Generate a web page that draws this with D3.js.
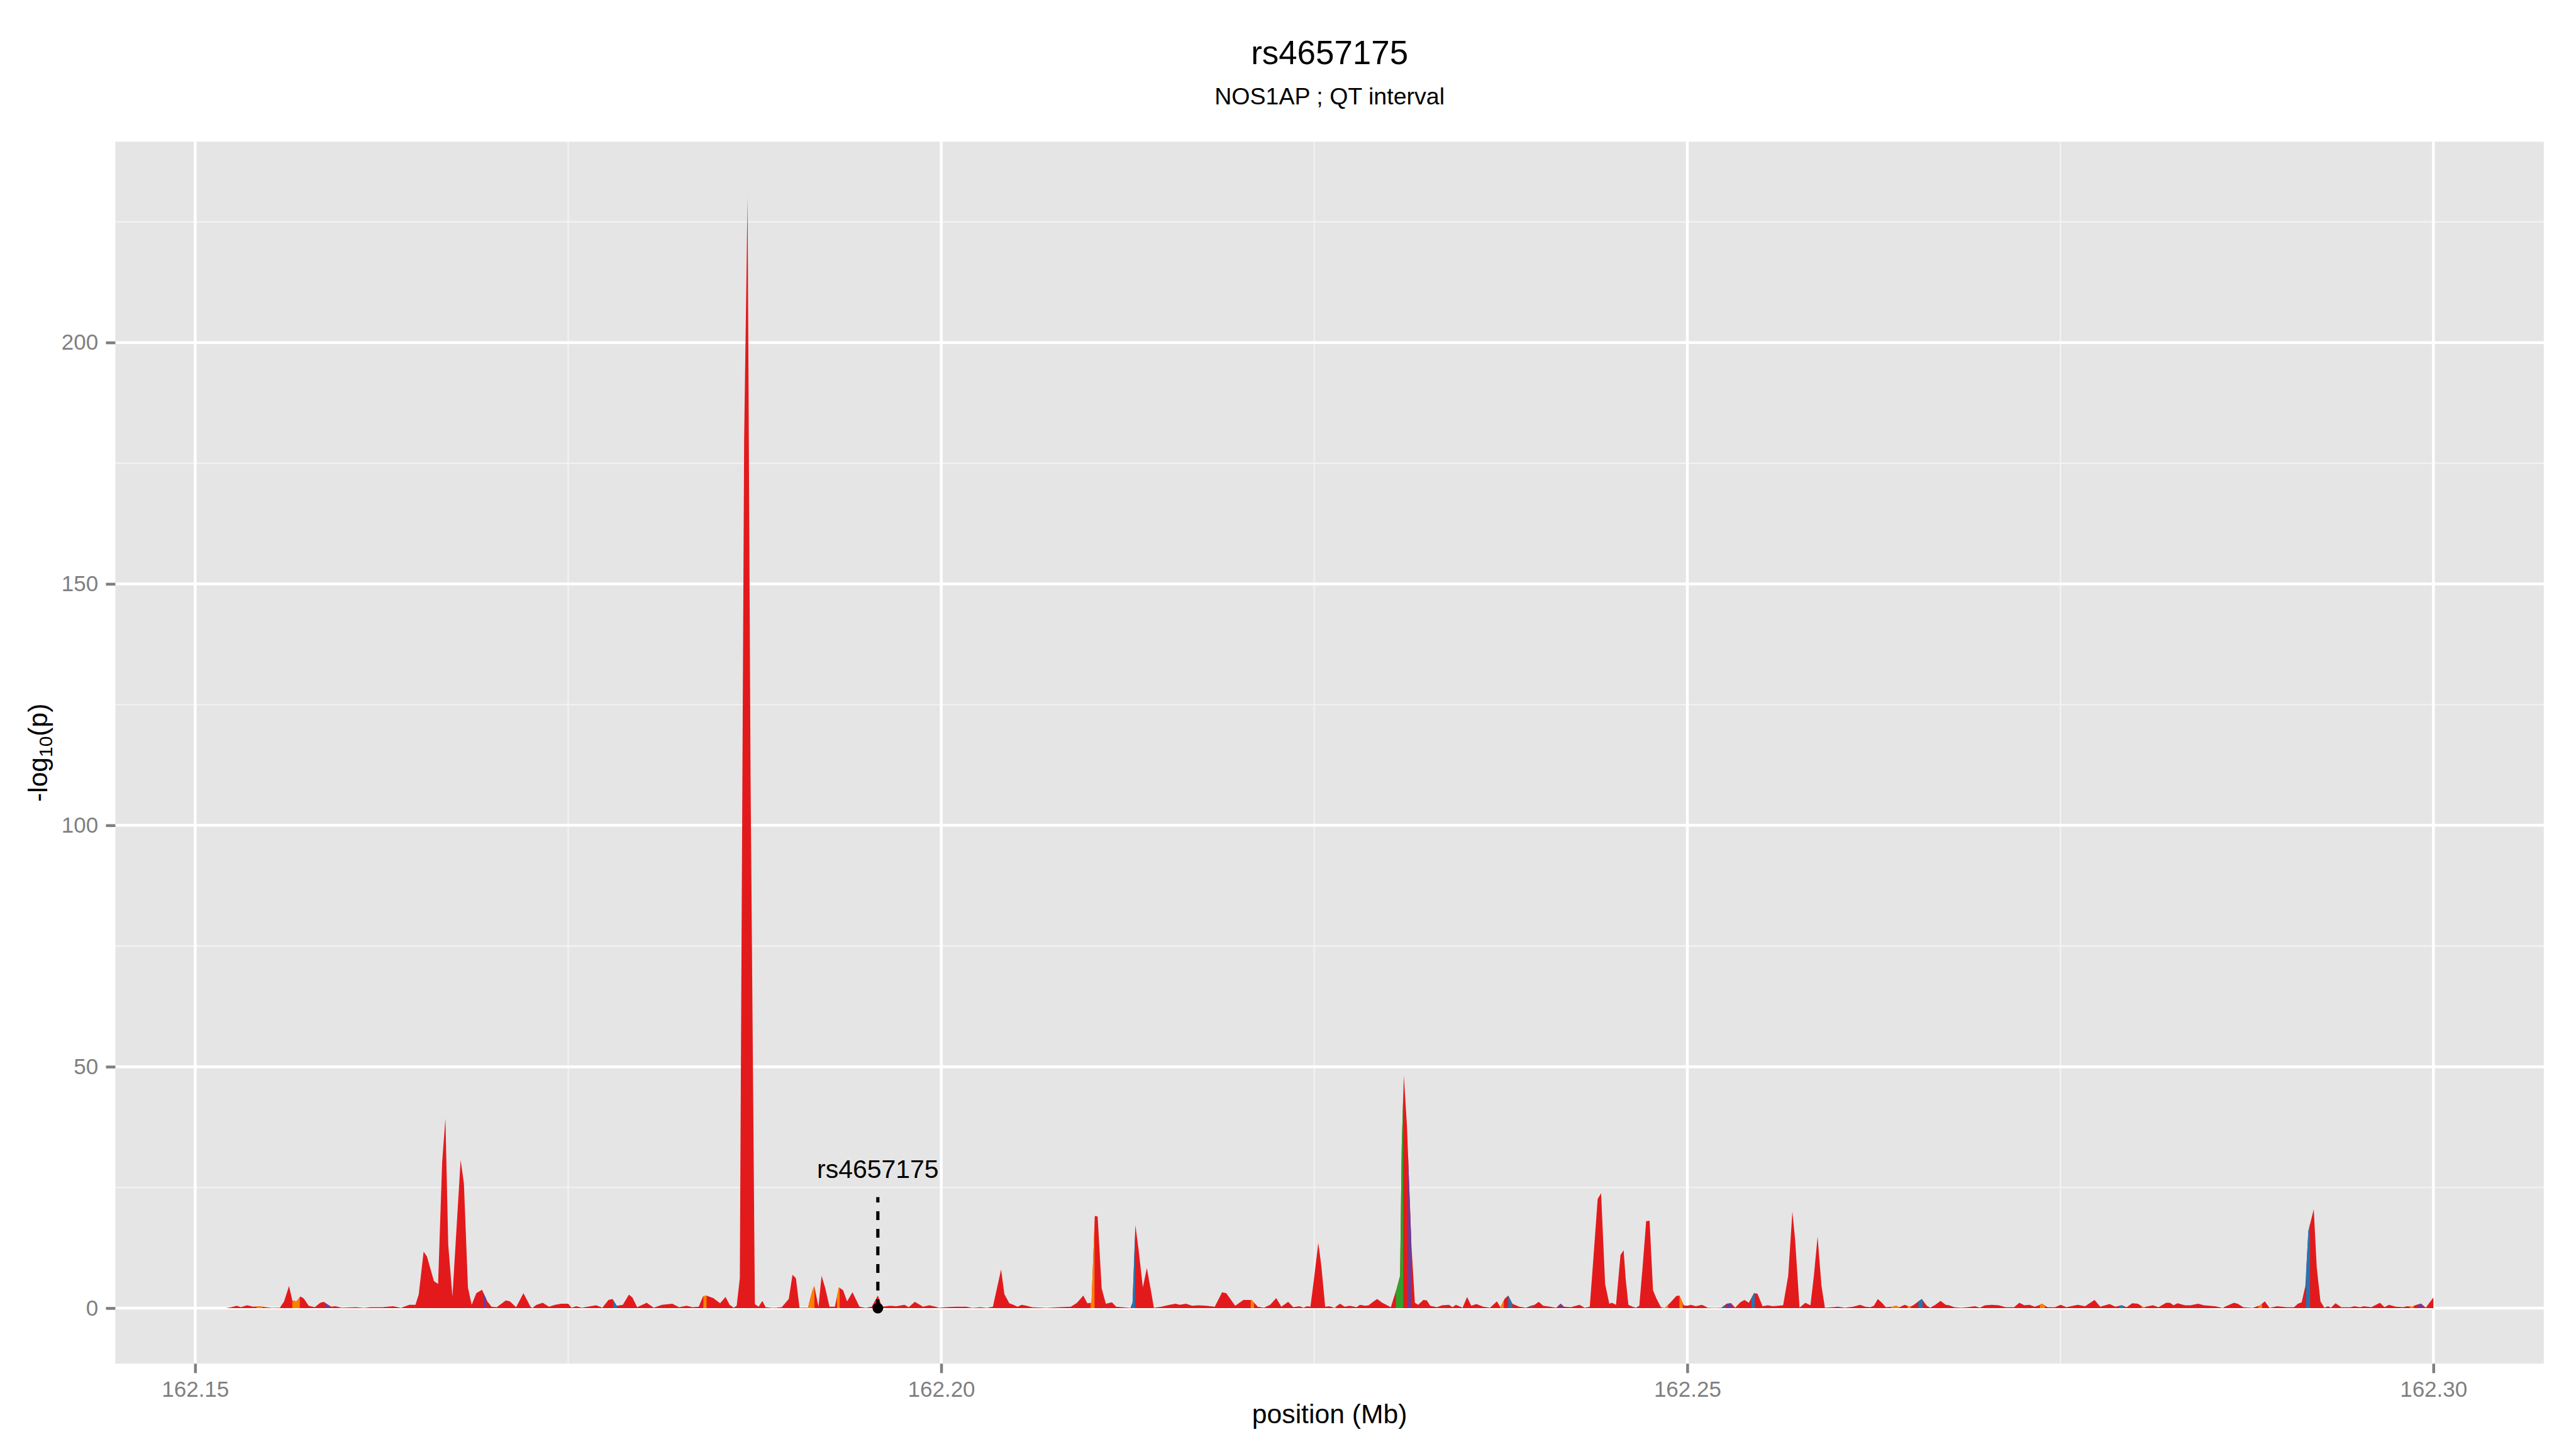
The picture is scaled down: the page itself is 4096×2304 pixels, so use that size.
<!DOCTYPE html>
<html>
<head>
<meta charset="utf-8">
<script src="https://cdn.jsdelivr.net/npm/d3@7"></script>
<style>
  html, body { margin: 0; padding: 0; background: #ffffff; }
  svg { display: block; }
</style>
</head>
<body>
<div id="chart"></div>
<script>
// SNP positions (Mb) and -log10(p)
const positions = [
  162.15205, 162.15243, 162.15279, 162.15306, 162.15348, 162.15389, 162.15430, 162.15472, 162.15513, 162.15568,
  162.15596, 162.15629, 162.15651, 162.15678, 162.15706, 162.15728, 162.15761, 162.15802, 162.15838, 162.15862,
  162.15884, 162.15912, 162.15940, 162.15981, 162.16077, 162.16132, 162.16173, 162.16256, 162.16325, 162.16380,
  162.16435, 162.16476, 162.16498, 162.16531, 162.16553, 162.16600, 162.16628, 162.16655, 162.16677, 162.16696,
  162.16724, 162.16779, 162.16801, 162.16828, 162.16853, 162.16884, 162.16922, 162.16958, 162.16986, 162.17021,
  162.17082, 162.17109, 162.17151, 162.17200, 162.17247, 162.17261, 162.17288, 162.17329, 162.17371, 162.17412,
  162.17453, 162.17500, 162.17522, 162.17555, 162.17591, 162.17687, 162.17729, 162.17770, 162.17797, 162.17825,
  162.17866, 162.17907, 162.17930, 162.17962, 162.18026, 162.18073, 162.18128, 162.18197, 162.18243, 162.18293,
  162.18334, 162.18375, 162.18403, 162.18425, 162.18472, 162.18518, 162.18554, 162.18582, 162.18609, 162.18629,
  162.18650, 162.18679, 162.18702, 162.18722, 162.18751, 162.18776, 162.18801, 162.18823, 162.18870, 162.18888,
  162.18931, 162.18978, 162.19003, 162.19026, 162.19050, 162.19107, 162.19135, 162.19149, 162.19177, 162.19198,
  162.19223, 162.19251, 162.19287, 162.19314, 162.19342, 162.19369, 162.19405, 162.19452, 162.19493, 162.19534,
  162.19575, 162.19603, 162.19658, 162.19699, 162.19754, 162.19782, 162.19823, 162.19878, 162.19920, 162.19961,
  162.19988, 162.20030, 162.20098, 162.20167, 162.20208, 162.20263, 162.20305, 162.20346, 162.20401, 162.20423,
  162.20456, 162.20484, 162.20511, 162.20539, 162.20572, 162.20608, 162.20704, 162.20787, 162.20869, 162.20910,
  162.20952, 162.20979, 162.21007, 162.21029, 162.21048, 162.21075, 162.21103, 162.21144, 162.21172, 162.21268,
  162.21282, 162.21301, 162.21323, 162.21351, 162.21378, 162.21406, 162.21425, 162.21475, 162.21530, 162.21571,
  162.21598, 162.21640, 162.21681, 162.21722, 162.21778, 162.21833, 162.21882, 162.21910, 162.21970, 162.22025,
  162.22080, 162.22121, 162.22163, 162.22204, 162.22245, 162.22279, 162.22325, 162.22359, 162.22400, 162.22428,
  162.22451, 162.22474, 162.22497, 162.22527, 162.22547, 162.22573, 162.22600, 162.22635, 162.22673, 162.22703,
  162.22738, 162.22783, 162.22806, 162.22841, 162.22864, 162.22898, 162.22921, 162.22956, 162.23013, 162.23031,
  162.23052, 162.23075, 162.23086, 162.23100, 162.23121, 162.23151, 162.23174, 162.23196, 162.23231, 162.23254,
  162.23277, 162.23322, 162.23357, 162.23403, 162.23426, 162.23449, 162.23494, 162.23524, 162.23552, 162.23587,
  162.23632, 162.23678, 162.23724, 162.23747, 162.23777, 162.23800, 162.23827, 162.23873, 162.23919, 162.23953,
  162.23976, 162.24004, 162.24034, 162.24080, 162.24121, 162.24151, 162.24174, 162.24220, 162.24277, 162.24312,
  162.24346, 162.24369, 162.24399, 162.24422, 162.24449, 162.24477, 162.24495, 162.24522, 162.24552, 162.24573,
  162.24587, 162.24605, 162.24633, 162.24655, 162.24678, 162.24701, 162.24724, 162.24747, 162.24770, 162.24793,
  162.24823, 162.24851, 162.24885, 162.24926, 162.24947, 162.24976, 162.25000, 162.25023, 162.25057, 162.25098,
  162.25137, 162.25183, 162.25229, 162.25263, 162.25293, 162.25321, 162.25355, 162.25383, 162.25412, 162.25447,
  162.25470, 162.25504, 162.25539, 162.25573, 162.25642, 162.25676, 162.25704, 162.25722, 162.25752, 162.25791,
  162.25825, 162.25848, 162.25873, 162.25899, 162.25922, 162.25975, 162.26009, 162.26055, 162.26112, 162.26158,
  162.26192, 162.26227, 162.26250, 162.26277, 162.26307, 162.26330, 162.26376, 162.26399, 162.26422, 162.26456,
  162.26491, 162.26514, 162.26536, 162.26571, 162.26605, 162.26628, 162.26662, 162.26697, 162.26732, 162.26754,
  162.26789, 162.26835, 162.26880, 162.26927, 162.26961, 162.26995, 162.27041, 162.27087, 162.27133, 162.27190,
  162.27225, 162.27259, 162.27293, 162.27328, 162.27357, 162.27376, 162.27414, 162.27464, 162.27502, 162.27540,
  162.27616, 162.27666, 162.27729, 162.27767, 162.27830, 162.27868, 162.27911, 162.27944, 162.27982, 162.28019,
  162.28057, 162.28120, 162.28158, 162.28209, 162.28234, 162.28259, 162.28285, 162.28335, 162.28373, 162.28423,
  162.28461, 162.28537, 162.28587, 162.28663, 162.28688, 162.28726, 162.28789, 162.28839, 162.28870, 162.28902,
  162.28953, 162.29016, 162.29066, 162.29092, 162.29117, 162.29142, 162.29162, 162.29198, 162.29218, 162.29243,
  162.29269, 162.29294, 162.29314, 162.29344, 162.29382, 162.29445, 162.29470, 162.29508, 162.29533, 162.29584,
  162.29609, 162.29642, 162.29672, 162.29702, 162.29748, 162.29798, 162.29824, 162.29856, 162.29886, 162.29917,
  162.29949, 162.30000
];

const logP = [
  0, 0.2, 0.5, 0.2, 0.6, 0.3, 0.4, 0.2, 0.05, 0.1,
  1.4, 4.6, 1.6, 1.4, 2.4, 2.0, 0.5, 0.2, 1.1, 1.3,
  0.8, 0.3, 0.4, 0.1, 0.2, 0.05, 0.2, 0.2, 0.4, 0.05,
  0.7, 0.7, 2.8, 11.7, 10.7, 5.6, 5.0, 30.1, 39.3, 13.1,
  2.4, 30.7, 25.8, 4.3, 0.7, 3.1, 3.8, 1.4, 0.3, 0.2,
  1.6, 1.4, 0.2, 3.1, 0.3, 0.1, 0.7, 1.1, 0.3, 0.7,
  0.9, 0.9, 0.1, 0.4, 0.1, 0.6, 0.1, 1.7, 1.9, 0.5,
  0.7, 2.8, 2.2, 0.2, 1.1, 0.1, 0.7, 0.9, 0.2, 0.5,
  0.2, 0.3, 2.4, 2.6, 2.1, 1.0, 2.3, 0.7, 0.1, 0.5,
  6.2, 180, 230.1, 110, 0.8, 0.3, 1.5, 0.2, 0.05, 0.1,
  0.2, 1.9, 6.9, 6.2, 0.1, 0.1, 3.5, 4.6, 0.3, 6.7,
  4.1, 0.3, 0.3, 4.3, 3.7, 1.4, 3.3, 0.3, 0.05, 0.3,
  2.6, 0.3, 0.5, 0.4, 0.7, 0.2, 1.3, 0.3, 0.6, 0.3,
  0.05, 0.2, 0.3, 0.3, 0.05, 0.2, 0.05, 0.3, 8.0, 2.9,
  1.0, 0.7, 0.3, 0.7, 0.5, 0.2, 0.05, 0.2, 0.3, 1.1,
  2.6, 1.0, 1.1, 19.1, 19.0, 4.1, 0.9, 1.2, 0.3, 0.05,
  1.1, 17.2, 12.0, 4.3, 8.3, 3.5, 0.1, 0.3, 0.7, 0.9,
  0.7, 0.9, 0.5, 0.6, 0.5, 0.3, 3.3, 3.1, 0.5, 1.7,
  1.7, 0.3, 0.1, 0.7, 2.1, 0.3, 1.3, 0.2, 0.4, 0.1,
  0.4, 0.3, 5.8, 13.5, 8.8, 0.3, 0.4, 0.1, 0.9, 0.3,
  0.5, 0.2, 0.7, 0.5, 0.6, 1.4, 1.9, 1.1, 0.2, 2.0,
  4.0, 6.7, 33.5, 48.2, 37.7, 13.0, 1.1, 0.7, 1.7, 1.6,
  0.5, 0.2, 0.6, 0.7, 0.2, 0.7, 0.1, 2.3, 0.5, 0.85,
  0.3, 0.1, 1.4, 0.2, 2.0, 2.6, 0.9, 0.3, 0.1, 0.5,
  0.7, 1.3, 0.5, 0.3, 0.1, 0.9, 0.3, 0.2, 0.7, 0.1,
  0.3, 9.7, 22.6, 23.8, 5.0, 0.9, 1.1, 0.7, 11.0, 12.0,
  6.0, 0.7, 0.3, 0.1, 0.5, 8.8, 18.0, 18.1, 3.7, 2.0,
  0.2, 0.1, 1.1, 2.5, 2.6, 0.6, 0.5, 0.7, 0.4, 0.7,
  0.1, 0.05, 0.1, 0.9, 1.0, 0.1, 1.2, 1.7, 1.1, 3.1,
  3.0, 0.4, 0.6, 0.4, 0.6, 6.7, 20.0, 14.3, 0.1, 1.1,
  0.6, 6.7, 14.8, 4.6, 0.1, 0.2, 0.3, 0.1, 0.3, 0.7,
  0.3, 0.2, 0.5, 1.9, 1.0, 0.2, 0.3, 0.5, 0.2, 0.7,
  0.3, 0.6, 1.1, 1.9, 0.5, 0.1, 0.7, 1.5, 0.7, 0.6,
  0.2, 0.1, 0.2, 0.4, 0.1, 0.6, 0.7, 0.6, 0.2, 0.2,
  1.1, 0.6, 0.7, 0.3, 0.6, 0.9, 0.2, 0.2, 0.7, 0.2,
  0.7, 0.4, 1.7, 0.3, 0.85, 0.3, 0.6, 0.2, 1.0, 0.9,
  0.2, 0.6, 0.2, 1.1, 1.1, 0.6, 1.0, 0.6, 0.6, 0.9,
  0.6, 0.4, 0.05, 1.1, 0.9, 0.2, 0.05, 0.6, 1.4, 0.05,
  0.4, 0.2, 0.2, 0.9, 1.2, 4.6, 16.0, 20.5, 8.5, 1.4,
  0.1, 0.4, 0.1, 1.0, 0.2, 0.2, 0.4, 0.2, 0.4, 0.2,
  0.6, 1.1, 0.2, 0.7, 0.3, 0.2, 0.4, 0.3, 0.7, 0.9,
  0.1, 2.2
];

// stretches of the profile filled with another LD colour (red elsewhere)
const ldStart = [
  162.15410, 162.15651, 162.15870, 162.16931, 162.17251, 162.17802, 162.18406, 162.18877, 162.19107, 162.19301,
  162.21001, 162.21276, 162.22074, 162.22623, 162.23047, 162.23128, 162.23746, 162.23800, 162.23948, 162.24139,
  162.24828, 162.24947, 162.25225, 162.25263, 162.25429, 162.26004, 162.26365, 162.26474, 162.26548, 162.27363,
  162.27893, 162.28044, 162.28580, 162.28827, 162.29147, 162.29842, 162.29899
];
const ldEnd = [
  162.15453, 162.15701, 162.15899, 162.16950, 162.17269, 162.17827, 162.18427, 162.18899, 162.19150, 162.19319,
  162.21027, 162.21299, 162.22096, 162.22646, 162.23096, 162.23149, 162.23770, 162.23827, 162.23960, 162.24169,
  162.24872, 162.24969, 162.25252, 162.25297, 162.25451, 162.26014, 162.26422, 162.26498, 162.26577, 162.27397,
  162.27926, 162.28069, 162.28595, 162.28852, 162.29173, 162.29868, 162.29929
];
const ldClass = [
  'orange', 'orange', 'purple', 'purple', 'orange', 'blue', 'orange', 'orange', 'orange', 'orange',
  'orange', 'blue', 'orange', 'orange', 'green', 'purple', 'orange', 'blue', 'blue', 'purple',
  'orange', 'orange', 'blue', 'purple', 'blue', 'blue', 'orange', 'orange', 'blue', 'orange',
  'blue', 'orange', 'orange', 'orange', 'blue', 'orange', 'purple'
];

const xTicks = [162.15, 162.20, 162.25, 162.30];
const xMinorTicks = [162.175, 162.225, 162.275];
const yTicks = [0, 50, 100, 150, 200];
const yMinorTicks = [25, 75, 125, 175, 225];

const titleText = 'rs4657175';
const subtitleText = 'NOS1AP ; QT interval';
const snpName = 'rs4657175';
const snpPos = 162.19575;
const snpLineTop = 23;
const snpLabelAt = 27;

const colours = {
  red: '#E31A1C',
  orange: '#FF7F00',
  blue: '#1F78B4',
  green: '#33A02C',
  purple: '#6A3D9A'
};
const fontFamily = '"Liberation Sans", Arial, Helvetica, sans-serif';

// drawn in the reference's 4800x2700 units, scaled down by the viewBox
const W = 4800, H = 2700;
const margin = { top: 264, right: 60, bottom: 159, left: 215 };
const width = W - margin.left - margin.right;
const height = H - margin.top - margin.bottom;

const svg = d3.select('#chart')
  .append('svg')
  .attr('width', 4096)
  .attr('height', 2304)
  .attr('viewBox', `0 0 ${W} ${H}`);

svg.append('rect')
  .attr('width', W)
  .attr('height', H)
  .attr('fill', '#ffffff');

const g = svg.append('g')
  .attr('transform', `translate(${margin.left},${margin.top})`);

// ggplot style 5% expansion on both axes
const xExt = d3.extent(positions);
const xPad = (xExt[1] - xExt[0]) * 0.05;
const x = d3.scaleLinear()
  .domain([xExt[0] - xPad, xExt[1] + xPad])
  .range([0, width]);

const yMax = d3.max(logP);
const yPad = yMax * 0.05;
const y = d3.scaleLinear()
  .domain([-yPad, yMax + yPad])
  .range([height, 0]);

g.append('rect')
  .attr('width', width)
  .attr('height', height)
  .attr('fill', '#E5E5E5');

// minor grid
xMinorTicks.forEach(t => {
  g.append('line')
    .attr('x1', x(t)).attr('x2', x(t))
    .attr('y1', 0).attr('y2', height)
    .attr('stroke', '#F2F2F2')
    .attr('stroke-width', 2.7);
});
yMinorTicks.forEach(t => {
  g.append('line')
    .attr('x1', 0).attr('x2', width)
    .attr('y1', y(t)).attr('y2', y(t))
    .attr('stroke', '#F2F2F2')
    .attr('stroke-width', 2.7);
});

// major grid
xTicks.forEach(t => {
  g.append('line')
    .attr('x1', x(t)).attr('x2', x(t))
    .attr('y1', 0).attr('y2', height)
    .attr('stroke', '#ffffff')
    .attr('stroke-width', 5.3);
});
yTicks.forEach(t => {
  g.append('line')
    .attr('x1', 0).attr('x2', width)
    .attr('y1', y(t)).attr('y2', y(t))
    .attr('stroke', '#ffffff')
    .attr('stroke-width', 5.3);
});

const profile = positions.map((p, i) => ({ pos: p, val: logP[i] }));

const area = d3.area()
  .x(d => x(d.pos))
  .y0(y(0))
  .y1(d => y(d.val));

g.append('path')
  .datum(profile)
  .attr('d', area)
  .attr('fill', colours.red);

function valueAt(p) {
  const i = d3.bisectLeft(positions, p);
  if (i <= 0) return logP[0];
  if (i >= positions.length) return logP[positions.length - 1];
  const t = (p - positions[i - 1]) / (positions[i] - positions[i - 1]);
  return logP[i - 1] + t * (logP[i] - logP[i - 1]);
}

ldStart.forEach((s, k) => {
  const e = ldEnd[k];
  const pts = [{ pos: s, val: valueAt(s) }];
  profile.forEach(d => {
    if (d.pos > s && d.pos < e) pts.push(d);
  });
  pts.push({ pos: e, val: valueAt(e) });

  g.append('path')
    .datum(pts)
    .attr('d', area)
    .attr('fill', colours[ldClass[k]]);
});

// index SNP annotation
g.append('line')
  .attr('x1', x(snpPos)).attr('x2', x(snpPos))
  .attr('y1', y(0)).attr('y2', y(snpLineTop))
  .attr('stroke', '#000000')
  .attr('stroke-width', 6)
  .attr('stroke-dasharray', '16.5,16.3');

g.append('circle')
  .attr('cx', x(snpPos))
  .attr('cy', y(0))
  .attr('r', 10)
  .attr('fill', '#000000');

g.append('text')
  .attr('x', x(snpPos))
  .attr('y', y(snpLabelAt))
  .attr('text-anchor', 'middle')
  .attr('font-family', fontFamily)
  .attr('font-size', 48)
  .attr('fill', '#000000')
  .text(snpName);

// axes
const xAxis = g.append('g')
  .attr('transform', `translate(0,${height})`)
  .call(d3.axisBottom(x)
    .tickValues(xTicks)
    .tickSize(17.6)
    .tickPadding(15)
    .tickFormat(d3.format('.2f')));

xAxis.attr('font-family', fontFamily).attr('font-size', 41);
xAxis.select('.domain').remove();
xAxis.selectAll('.tick line')
  .attr('stroke', '#7F7F7F')
  .attr('stroke-width', 5.3);
xAxis.selectAll('.tick text')
  .attr('fill', '#7F7F7F');

const yAxis = g.append('g')
  .call(d3.axisLeft(y)
    .tickValues(yTicks)
    .tickSize(17.6)
    .tickPadding(14.4));

yAxis.attr('font-family', fontFamily).attr('font-size', 41);
yAxis.select('.domain').remove();
yAxis.selectAll('.tick line')
  .attr('stroke', '#7F7F7F')
  .attr('stroke-width', 5.3);
yAxis.selectAll('.tick text')
  .attr('fill', '#7F7F7F');

// titles
svg.append('text')
  .attr('x', margin.left + width / 2)
  .attr('y', 120)
  .attr('text-anchor', 'middle')
  .attr('font-family', fontFamily)
  .attr('font-size', 62)
  .text(titleText);

svg.append('text')
  .attr('x', margin.left + width / 2)
  .attr('y', 195)
  .attr('text-anchor', 'middle')
  .attr('font-family', fontFamily)
  .attr('font-size', 44)
  .text(subtitleText);

svg.append('text')
  .attr('x', margin.left + width / 2)
  .attr('y', 2652)
  .attr('text-anchor', 'middle')
  .attr('font-family', fontFamily)
  .attr('font-size', 50)
  .text('position (Mb)');

const yTitle = svg.append('text')
  .attr('transform', `translate(88,${margin.top + height / 2}) rotate(-90)`)
  .attr('text-anchor', 'middle')
  .attr('font-family', fontFamily)
  .attr('font-size', 50);

yTitle.append('tspan').text('-log');
yTitle.append('tspan').attr('font-size', 35).attr('dy', 9).text('10');
yTitle.append('tspan').attr('dy', -9).text('(p)');
</script>
</body>
</html>
